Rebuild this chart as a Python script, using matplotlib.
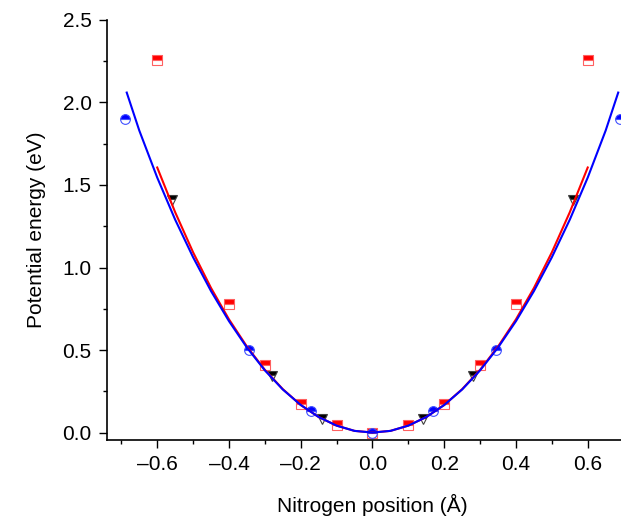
import matplotlib
matplotlib.use("Agg")
import matplotlib.pyplot as plt
from matplotlib.ticker import MultipleLocator

plt.rcParams["font.family"] = ["Liberation Sans", "DejaVu Sans"]

# red squares
sq_x = [-0.6, -0.4, -0.3, -0.2, -0.1, 0.0, 0.1, 0.2, 0.3, 0.4, 0.6]
sq_y = [2.26, 0.78, 0.41, 0.17, 0.045, 0.0, 0.045, 0.17, 0.41, 0.78, 2.26]

# blue circles
ci_x = [-0.69, -0.345, -0.17, 0.0, 0.17, 0.345, 0.69]
ci_y = [1.90, 0.50, 0.13, 0.0, 0.13, 0.50, 1.90]

# black triangles
tr_x = [-0.56, -0.28, -0.14, 0.14, 0.28, 0.56]
tr_y = [1.41, 0.34, 0.08, 0.08, 0.34, 1.41]

# red fit line
red_x = [-0.6, -0.55, -0.5, -0.45, -0.4, -0.35, -0.3, -0.25, -0.2, -0.15, -0.1, -0.05,
         0.0, 0.05, 0.1, 0.15, 0.2, 0.25, 0.3, 0.35, 0.4, 0.45, 0.5, 0.55, 0.6]
red_y = [1.606, 1.335, 1.092, 0.876, 0.686, 0.521, 0.380, 0.263, 0.167, 0.094, 0.042, 0.010,
         0.0, 0.010, 0.042, 0.094, 0.167, 0.263, 0.380, 0.521, 0.686, 0.876, 1.092, 1.335, 1.606]

# blue fit line
blue_x = [-0.685, -0.65, -0.6, -0.55, -0.5, -0.45, -0.4, -0.35, -0.3, -0.25, -0.2, -0.15, -0.1, -0.05,
          0.0, 0.05, 0.1, 0.15, 0.2, 0.25, 0.3, 0.35, 0.4, 0.45, 0.5, 0.55, 0.6, 0.65, 0.685]
blue_y = [2.06, 1.83, 1.545, 1.29, 1.062, 0.857, 0.675, 0.515, 0.377, 0.261, 0.167, 0.094, 0.042, 0.010,
          0.0, 0.010, 0.042, 0.094, 0.167, 0.261, 0.377, 0.515, 0.675, 0.857, 1.062, 1.29, 1.545, 1.83, 2.06]

xtick_vals = [-0.6, -0.4, -0.2, 0.0, 0.2, 0.4, 0.6]
xtick_labels = ["\u20130.6", "\u20130.4", "\u20130.2", "0.0", "0.2", "0.4", "0.6"]
ytick_vals = [0.0, 0.5, 1.0, 1.5, 2.0, 2.5]
ytick_labels = ["0.0", "0.5", "1.0", "1.5", "2.0", "2.5"]

fig = plt.figure(figsize=(6.21, 5.17), dpi=100)
ax = fig.add_axes([0.1723, 0.149, 0.855, 0.8124])

ax.plot(sq_x, sq_y, ls="none", marker="s", ms=6.5, fillstyle="top",
        markerfacecolor="#ff0000", markerfacecoloralt="white",
        markeredgecolor="#ff6060", markeredgewidth=0.8, zorder=2)
ax.plot(ci_x, ci_y, ls="none", marker="o", ms=7, fillstyle="top",
        markerfacecolor="#0000ff", markerfacecoloralt="white",
        markeredgecolor="#4050ff", markeredgewidth=0.8, zorder=2)
ax.plot(tr_x, tr_y, ls="none", marker="v", ms=7, fillstyle="top",
        markerfacecolor="black", markerfacecoloralt="white",
        markeredgecolor="#404040", markeredgewidth=0.8, zorder=2)

ax.plot(red_x, red_y, color="#ff0000", lw=1.5, zorder=3)
ax.plot(blue_x, blue_y, color="#0000ff", lw=1.5, zorder=4)

ax.set_xlim(-0.74, 0.74)
ax.set_ylim(-0.045, 2.5)
ax.xaxis.set_minor_locator(MultipleLocator(0.1))
ax.yaxis.set_minor_locator(MultipleLocator(0.25))
ax.set_xticks(xtick_vals)
ax.set_xticklabels(xtick_labels)
ax.set_yticks(ytick_vals)
ax.set_yticklabels(ytick_labels)

for s in ["top", "right"]:
    ax.spines[s].set_visible(False)
for s in ["left", "bottom"]:
    ax.spines[s].set_linewidth(1.2)

ax.tick_params(which="major", length=6, width=1, labelsize=15, pad=5)
ax.tick_params(which="minor", length=3, width=1)

ax.set_xlabel("Nitrogen position (\u00c5)", fontsize=15, labelpad=14)
ax.set_ylabel("Potential energy (eV)", fontsize=15, labelpad=12)

fig.savefig("out.png", dpi=100)
